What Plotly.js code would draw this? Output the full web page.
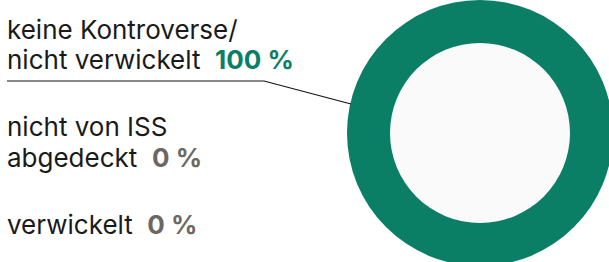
<!DOCTYPE html>
<html>
<head>
<meta charset="utf-8">
<script src="https://cdn.plot.ly/plotly-3.0.1.min.js"></script>
<style>
html,body{margin:0;padding:0;overflow:hidden;background:#ffffff;width:609px;height:262px;}
#chart{width:620px;height:266px;}
</style>
</head>
<body>
<div id="chart"></div>
<script>
// Data
const categories = ["keine Kontroverse/ nicht verwickelt", "nicht von ISS abgedeckt", "verwickelt"];
const labelLines = [["keine Kontroverse/", "nicht verwickelt"], ["nicht von ISS", "abgedeckt"], ["verwickelt"]];
const shares = [100, 0, 0];
const shareColors = ["#0a7f66", "#6c6762", "#6c6762"];
const sliceColors = ["#0a7f66", "#0a7f66", "#0a7f66"];

// Layout constants (pixels)
const W = 620, H = 266;
const baselines = [[35, 65], [132, 163], [230]];
const FS = 26;
const font = "Inter, Noto Sans, sans-serif";
const px = x => x / W;
const py = y => 1 - y / H;

const annotations = [];
labelLines.forEach((lines, i) => {
  lines.forEach((ln, j) => {
    let txt = ln;
    if (j === lines.length - 1) {
      txt += "  <b><span style='color:" + shareColors[i] + "'>" + shares[i] + " %</span></b>";
    }
    annotations.push({
      xref: "paper", yref: "paper",
      x: px(5), y: py(baselines[i][j] - 0.22 * FS),
      xanchor: "left", yanchor: "middle",
      text: txt, showarrow: false,
      font: {family: font, size: FS, color: "#1a1a1a"}
    });
  });
});

const cx = 480, cy = 133, rOut = 133, rIn = 90;

const trace = {
  type: "pie",
  values: shares,
  labels: categories,
  marker: {colors: sliceColors, line: {width: 0}},
  hole: rIn / rOut,
  sort: false,
  direction: "clockwise",
  rotation: 0,
  textinfo: "none",
  hoverinfo: "none",
  showlegend: false,
  domain: {x: [px(cx - rOut), px(cx + rOut)], y: [py(cy + rOut), py(cy - rOut)]}
};

const layout = {
  width: W, height: H,
  margin: {l: 0, r: 0, t: 0, b: 0, pad: 0},
  paper_bgcolor: "#ffffff",
  plot_bgcolor: "#ffffff",
  showlegend: false,
  annotations: annotations,
  shapes: [
    {type: "circle", xref: "paper", yref: "paper", layer: "below",
     x0: px(cx - rIn), x1: px(cx + rIn), y0: py(cy + rIn), y1: py(cy - rIn),
     fillcolor: "#fafafa", line: {width: 0}},
    {type: "path", xref: "paper", yref: "paper", layer: "above",
     path: "M " + px(7) + " " + py(81) + " L " + px(264) + " " + py(81) + " L " + px(351) + " " + py(104),
     line: {color: "#111111", width: 1.2}}
  ]
};

Plotly.newPlot("chart", [trace], layout, {displayModeBar: false, staticPlot: true});
</script>
</body>
</html>
